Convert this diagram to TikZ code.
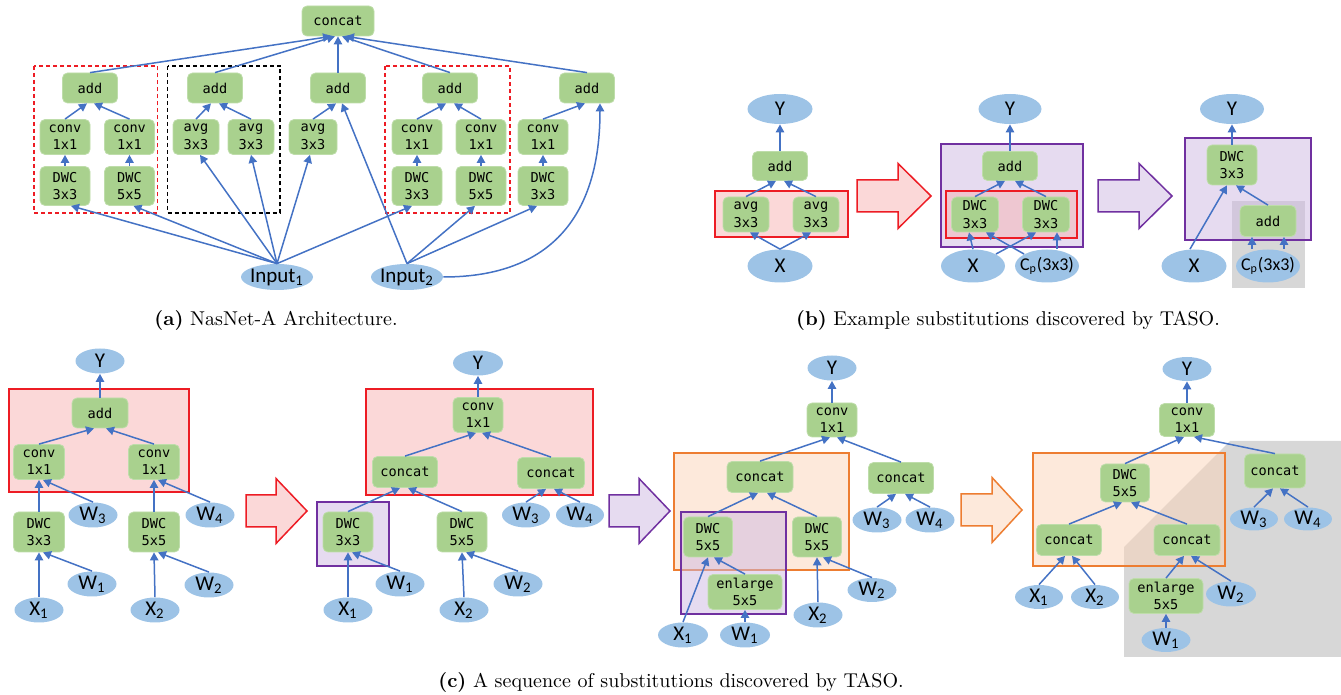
\documentclass[tikz,border=0pt]{standalone}
\usepackage{fontspec}
\usetikzlibrary{arrows.meta,shapes.geometric}
\newfontfamily\opfont{DejaVu Sans Mono}
\newfontfamily\tenfont{Carlito}
\definecolor{opgreen}{RGB}{169,209,142}
\definecolor{tenblue}{RGB}{157,195,230}
\definecolor{flowblue}{RGB}{68,114,196}
\definecolor{boxred}{RGB}{237,28,36}
\definecolor{boxpurple}{RGB}{112,48,160}
\definecolor{boxorange}{RGB}{237,125,49}
\definecolor{fillred}{RGB}{248,178,178}
\definecolor{fillpurple}{RGB}{205,184,226}
\definecolor{fillorange}{RGB}{251,211,183}
\definecolor{fillgray}{RGB}{176,176,176}

\tikzset{
  op/.style 2 args={rectangle, rounded corners=2.5pt, fill=opgreen, draw=opgreen!75!white,
    line width=0.4pt, align=center, inner sep=0pt, font=\opfont\fontsize{6.8}{8.8}\selectfont,
    minimum width=#1*0.5pt, minimum height=#2*0.5pt},
  tensor/.style 2 args={ellipse, fill=tenblue, inner sep=-1.5pt, font=\tenfont\fontsize{10.5}{11}\selectfont,
    minimum width=#1*0.5pt, minimum height=#2*0.5pt},
  cptensor/.style={inner xsep=-4pt, font=\tenfont\fontsize{9}{10}\selectfont},
  flow/.style={draw=flowblue, line width=0.75pt, -{Triangle[length=4pt,width=4.2pt]}},
  redbox/.style={draw=boxred, line width=0.75pt, fill=fillred, fill opacity=0.5},
  purplebox/.style={draw=boxpurple, line width=0.75pt, fill=fillpurple, fill opacity=0.5},
  orangebox/.style={draw=boxorange, line width=0.75pt, fill=fillorange, fill opacity=0.5},
  graybox/.style={fill=fillgray, fill opacity=0.5},
  dashred/.style={draw=boxred, line width=0.6pt, dash pattern=on 2pt off 1.5pt},
  dashblack/.style={draw=black, line width=0.6pt, dash pattern=on 2pt off 1.5pt},
  redarrow/.style={draw=boxred, line width=0.75pt, fill=fillred, fill opacity=0.5, line join=miter},
  purplearrow/.style={draw=boxpurple, line width=0.75pt, fill=fillpurple, fill opacity=0.5, line join=miter},
  orangearrow/.style={draw=boxorange, line width=0.75pt, fill=fillorange, fill opacity=0.5, line join=miter},
  caption/.style={font=\fontsize{10}{12}\selectfont, inner sep=0pt}
}
\newcommand{\subarrow}[4]{\draw[#1,shift={#2}] (0,-16) -- (#3,-16) -- (#3,-32.5) -- ({#3+#4},0) -- (#3,32.5) -- (#3,16) -- (0,16) -- cycle;}

\begin{document}
\begin{tikzpicture}[x=0.5pt,y=-0.5pt]
\useasboundingbox (0,0) rectangle (1341,695);

% (a) NasNet-A
\draw[dashred] (34,66) rectangle (157.5,213);
\draw[dashblack] (167.5,66) rectangle (280,213);
\draw[dashred] (385,66) rectangle (510,213);
\node[op={72}{30}] (cat) at (338,21) {concat};
\node[op={55}{30}] (add1) at (90,88) {add};
\node[op={55}{30}] (add2) at (215,88) {add};
\node[op={55}{30}] (add3) at (338,88) {add};
\node[op={55}{30}] (add4) at (450,88) {add};
\node[op={55}{30}] (add5) at (587,88) {add};
\node[op={50}{35}] (cv1) at (65,137) {conv\\1x1};
\node[op={50}{35}] (cv2) at (129.5,137) {conv\\1x1};
\node[op={46}{35}] (avg1) at (196,137) {avg\\3x3};
\node[op={46}{35}] (avg2) at (251,137) {avg\\3x3};
\node[op={48}{35}] (avg3) at (313,137) {avg\\3x3};
\node[op={50}{35}] (cv3) at (417,137) {conv\\1x1};
\node[op={50}{35}] (cv4) at (481,137) {conv\\1x1};
\node[op={50}{35}] (cv5) at (543,137) {conv\\1x1};
\node[op={50}{39}] (dwc1) at (65,186) {DWC\\3x3};
\node[op={50}{39}] (dwc2) at (129.5,186) {DWC\\5x5};
\node[op={50}{39}] (dwc3) at (417,186) {DWC\\3x3};
\node[op={50}{39}] (dwc4) at (481,186) {DWC\\5x5};
\node[op={50}{39}] (dwc5) at (543,186) {DWC\\3x3};
\node[tensor={72}{26}] (inA) at (277,277) {Input\textsubscript{1}};
\node[tensor={72}{26}] (inB) at (407,277) {Input\textsubscript{2}};
\draw[flow] (add1.north) -- ([xshift=-3.5pt]cat.south);
\draw[flow] (add2.north) -- ([xshift=-1.5pt]cat.south);
\draw[flow] (add3.north) -- (cat.south);
\draw[flow] (add4.north) -- ([xshift=2pt]cat.south);
\draw[flow] (add5.north) -- ([xshift=4pt]cat.south);
\draw[flow] (cv1.north) -- ([xshift=-1.5pt]add1.south);
\draw[flow] (cv2.north) -- ([xshift=2pt]add1.south);
\draw[flow] (avg1.north) -- ([xshift=-2pt]add2.south);
\draw[flow] (avg2.north) -- ([xshift=2pt]add2.south);
\draw[flow] (avg3.north) -- ([xshift=-1pt]add3.south);
\draw[flow] (cv3.north) -- ([xshift=-2pt]add4.south);
\draw[flow] (cv4.north) -- ([xshift=2pt]add4.south);
\draw[flow] (cv5.north) -- ([xshift=-1pt]add5.south);
\draw[flow] (dwc1) -- (cv1);
\draw[flow] (dwc2) -- (cv2);
\draw[flow] (dwc3) -- (cv3);
\draw[flow] (dwc4) -- (cv4);
\draw[flow] (dwc5) -- (cv5);
\draw[flow] (inA.north) -- ([xshift=3pt]dwc1.south);
\draw[flow] (inA.north) -- ([xshift=2pt]dwc2.south);
\draw[flow] (inA.north) -- ([xshift=2pt]avg1.south);
\draw[flow] (inA.north) -- (avg2.south);
\draw[flow] (inA.north) -- ([xshift=-1.5pt]avg3.south);
\draw[flow] (inA.north) -- ([xshift=-2.5pt]dwc3.south);
\draw[flow] (inB.north) -- ([xshift=2pt]add3.south);
\draw[flow] (inB.north) -- ([xshift=-3pt]dwc4.south);
\draw[flow] (inB.north) -- ([xshift=-3pt]dwc5.south);
\draw[flow] (inB.east) to[out=0,in=-90,looseness=1.2] ([xshift=6.5pt]add5.south);
\node[caption] (capA) at (276,320) {\textbf{(a)} NasNet-A Architecture.};

% (b) example substitutions
\draw[redbox] (715,191) rectangle (848,237);
\draw[purplebox] (941,144) rectangle (1083,247);
\draw[redbox] (946,191) rectangle (1077,238);
\fill[graybox] (1232,201) rectangle (1305,288);
\draw[purplebox] (1185,138) rectangle (1311,240);
\subarrow{redarrow}{(857,196)}{41}{33}
\subarrow{purplearrow}{(1098,196)}{41}{33}
\node[tensor={65}{30}] (bY1) at (780,109) {Y};
\node[op={55}{29}] (bAdd1) at (780,166) {add};
\node[op={46}{35}] (bAvg1) at (746,214.5) {avg\\3x3};
\node[op={46}{35}] (bAvg2) at (816,214.5) {avg\\3x3};
\node[tensor={65}{33}] (bX1) at (780,266) {X};
\node[tensor={63}{30}] (bY2) at (1010,109) {Y};
\node[op={55}{29}] (bAdd2) at (1010,166) {add};
\node[op={47}{35}] (bDwc1) at (975,214.5) {DWC\\3x3};
\node[op={47}{35}] (bDwc2) at (1046,214.5) {DWC\\3x3};
\node[tensor={64}{33}] (bX2) at (973,266) {X};
\node[tensor={64}{33}, cptensor] (bCp2) at (1047,266) {C\textsubscript{p}(3x3)};
\node[tensor={64}{30}] (bY3) at (1232,109) {Y};
\node[op={50}{40}] (bDwc3) at (1232,165) {DWC\\3x3};
\node[op={56}{31}] (bAdd3) at (1268,221) {add};
\node[tensor={65}{33}] (bX3) at (1194,266) {X};
\node[tensor={64}{33}, cptensor] (bCp3) at (1268,266) {C\textsubscript{p}(3x3)};
\draw[flow] (bAdd1.north) -- (bY1.south);
\draw[flow] (bAvg1.north) -- ([xshift=-2pt]bAdd1.south);
\draw[flow] (bAvg2.north) -- ([xshift=2pt]bAdd1.south);
\draw[flow] (bX1.north) -- ([xshift=2pt]bAvg1.south);
\draw[flow] (bX1.north) -- ([xshift=-2.5pt]bAvg2.south);
\draw[flow] (bAdd2.north) -- (bY2.south);
\draw[flow] (bDwc1.north) -- ([xshift=-2.5pt]bAdd2.south);
\draw[flow] (bDwc2.north) -- ([xshift=2.5pt]bAdd2.south);
\draw[flow] (bX2.north) -- ([xshift=-3pt]bDwc1.south);
\draw[flow] (bX2.north east) -- ([xshift=-5pt]bDwc2.south);
\draw[flow] (bCp2.north west) -- ([xshift=5.5pt]bDwc1.south);
\draw[flow] ([xshift=5pt]bCp2.north) -- ([xshift=5.5pt]bDwc2.south);
\draw[flow] (bDwc3.north) -- (bY3.south);
\draw[flow] ([xshift=-2pt]bX3.north) -- ([xshift=-2.5pt]bDwc3.south);
\draw[flow] (bAdd3.north) -- ([xshift=2pt]bDwc3.south);
\draw[flow] ([xshift=-8pt]bCp3.north) -- ([xshift=-8pt]bAdd3.south);
\draw[flow] ([xshift=8pt]bCp3.north) -- ([xshift=8pt]bAdd3.south);
\node[caption] (capB) at (1008,320) {\textbf{(b)} Example substitutions discovered by TASO.};

% (c) sequence of substitutions
\draw[redbox] (9,389) rectangle (189,492);
\draw[redbox] (366,389) rectangle (593,495);
\draw[purplebox] (317,502) rectangle (389,566);
\draw[orangebox] (674,453) rectangle (849,570);
\draw[purplebox] (681,512) rectangle (786,614);
\fill[graybox] (1230,441) -- (1341,441) -- (1341,657) -- (1124,657) -- (1124,547) -- cycle;
\draw[orangebox] (1033,453) rectangle (1225,566);
\subarrow{redarrow}{(246,511)}{30}{31}
\subarrow{purplearrow}{(609,511)}{30}{31}
\subarrow{orangearrow}{(961,510)}{31}{30}

\node[tensor={49}{25}] (cY) at (100,361) {Y};
\node[op={56}{30}] (cAdd) at (100,413) {add};
\node[op={51}{35}] (cCv1) at (39,462) {conv\\1x1};
\node[op={51}{35}] (cCv2) at (154,462) {conv\\1x1};
\node[tensor={49}{25}] (cW3) at (93,515) {W\textsubscript{3}};
\node[tensor={49}{25}] (cW4) at (210,515) {W\textsubscript{4}};
\node[op={51}{40}] (cDwc1) at (39,532) {DWC\\3x3};
\node[op={51}{40}] (cDwc2) at (154,532) {DWC\\5x5};
\node[tensor={49}{25}] (cW1) at (92,584) {W\textsubscript{1}};
\node[tensor={49}{25}] (cW2) at (209,585) {W\textsubscript{2}};
\node[tensor={49}{25}] (cX1) at (39,610) {X\textsubscript{1}};
\node[tensor={49}{25}] (cX2) at (155,610) {X\textsubscript{2}};
\draw[flow] (cAdd.north) -- (cY.south);
\draw[flow] (cCv1.north) -- ([xshift=-3pt]cAdd.south);
\draw[flow] (cCv2.north) -- ([xshift=3pt]cAdd.south);
\draw[flow] (cDwc1.north) -- (cCv1.south);
\draw[flow] (cDwc2.north) -- (cCv2.south);
\draw[flow] (cW3.north) -- ([xshift=2pt]cCv1.south);
\draw[flow] (cW4.north) -- ([xshift=2pt]cCv2.south);
\draw[flow] (cX1.north) -- (cDwc1.south);
\draw[flow] (cX2.north) -- (cDwc2.south);
\draw[flow] (cW1.north) -- ([xshift=2pt]cDwc1.south);
\draw[flow] (cW2.north) -- ([xshift=2pt]cDwc2.south);

\node[tensor={50}{25}] (dY) at (478,363) {Y};
\node[op={50}{35}] (dCv) at (478,415) {conv\\1x1};
\node[op={65}{31}] (dCatL) at (405,472) {concat};
\node[op={67}{31}] (dCatR) at (551,473) {concat};
\node[tensor={48}{25}] (dW3) at (526,515) {W\textsubscript{3}};
\node[tensor={48}{25}] (dW4) at (580,515) {W\textsubscript{4}};
\node[op={50}{40}] (dDwc1) at (348,532) {DWC\\3x3};
\node[op={50}{40}] (dDwc2) at (462,532) {DWC\\5x5};
\node[tensor={49}{25}] (dW1) at (400,584) {W\textsubscript{1}};
\node[tensor={49}{25}] (dW2) at (518,584) {W\textsubscript{2}};
\node[tensor={49}{25}] (dX1) at (348,610) {X\textsubscript{1}};
\node[tensor={49}{25}] (dX2) at (464,610) {X\textsubscript{2}};
\draw[flow] (dCv.north) -- (dY.south);
\draw[flow] (dCatL.north) -- ([xshift=-1pt]dCv.south);
\draw[flow] (dCatR.north) -- ([xshift=2pt]dCv.south);
\draw[flow] (dDwc1.north) -- ([xshift=-2.5pt]dCatL.south);
\draw[flow] (dDwc2.north) -- ([xshift=1.5pt]dCatL.south);
\draw[flow] (dW3.north) -- ([xshift=-2.5pt]dCatR.south);
\draw[flow] (dW4.north) -- ([xshift=1.5pt]dCatR.south);
\draw[flow] (dX1.north) -- (dDwc1.south);
\draw[flow] (dX2.north) -- (dDwc2.south);
\draw[flow] (dW1.north) -- ([xshift=2pt]dDwc1.south);
\draw[flow] (dW2.north) -- ([xshift=2pt]dDwc2.south);

\node[tensor={49}{25}] (eY) at (832,368) {Y};
\node[op={50}{34}] (eCv) at (832,420) {conv\\1x1};
\node[op={66}{31}] (eCatL) at (760,477) {concat};
\node[op={65}{31}] (eCatR) at (901,478) {concat};
\node[tensor={49}{25}] (eW3) at (877,520) {W\textsubscript{3}};
\node[tensor={49}{25}] (eW4) at (930,520) {W\textsubscript{4}};
\node[op={49}{40}] (eDwc1) at (708,537) {DWC\\5x5};
\node[op={49}{40}] (eDwc2) at (817,537) {DWC\\5x5};
\node[op={74}{35}] (eEnl) at (745,592) {enlarge\\5x5};
\node[tensor={49}{24}] (eW2) at (872,590) {W\textsubscript{2}};
\node[tensor={49}{25}] (eX2) at (818,615) {X\textsubscript{2}};
\node[tensor={50}{25}] (eX1) at (683,635) {X\textsubscript{1}};
\node[tensor={50}{25}] (eW1) at (745,635) {W\textsubscript{1}};
\draw[flow] (eCv.north) -- (eY.south);
\draw[flow] (eCatL.north) -- ([xshift=-1pt]eCv.south);
\draw[flow] (eCatR.north) -- ([xshift=2.5pt]eCv.south);
\draw[flow] (eDwc1.north) -- ([xshift=-1pt]eCatL.south);
\draw[flow] (eDwc2.north) -- ([xshift=3.5pt]eCatL.south);
\draw[flow] (eW3.north) -- ([xshift=-2.5pt]eCatR.south);
\draw[flow] (eW4.north) -- ([xshift=2pt]eCatR.south);
\draw[flow] (eX1.north) -- (eDwc1.south);
\draw[flow] (eEnl.north) -- ([xshift=3pt]eDwc1.south);
\draw[flow] (eW1.north) -- (eEnl.south);
\draw[flow] (eX2.north) -- (eDwc2.south);
\draw[flow] (eW2.north) -- ([xshift=3pt]eDwc2.south);

\node[tensor={49}{24}] (fY) at (1187,369) {Y};
\node[op={55}{33}] (fCv) at (1187,420) {conv\\1x1};
\node[op={49}{38}] (fDwc) at (1125,483) {DWC\\5x5};
\node[op={61}{34}] (fCatO) at (1275,471) {concat};
\node[tensor={48}{23}] (fW3) at (1254,519) {W\textsubscript{3}};
\node[tensor={48}{23}] (fW4) at (1308,519) {W\textsubscript{4}};
\node[op={65}{31}] (fCatL) at (1069,540) {concat};
\node[op={66}{31}] (fCatR) at (1187,540) {concat};
\node[tensor={48}{24}] (fX1) at (1039,597) {X\textsubscript{1}};
\node[tensor={48}{24}] (fX2) at (1095,597) {X\textsubscript{2}};
\node[op={74}{35}] (fEnl) at (1166,596) {enlarge\\5x5};
\node[tensor={50}{25}] (fW2) at (1231,594) {W\textsubscript{2}};
\node[tensor={49}{24}] (fW1) at (1166,640) {W\textsubscript{1}};
\draw[flow] (fCv.north) -- (fY.south);
\draw[flow] (fDwc.north) -- ([xshift=-1.5pt]fCv.south);
\draw[flow] (fCatO.north) -- ([xshift=3.5pt]fCv.south);
\draw[flow] (fCatL.north) -- ([xshift=-1.5pt]fDwc.south);
\draw[flow] (fCatR.north) -- ([xshift=3pt]fDwc.south);
\draw[flow] (fW3.north) -- ([xshift=-1pt]fCatO.south);
\draw[flow] (fW4.north) -- ([xshift=2.5pt]fCatO.south);
\draw[flow] (fX1.north) -- ([xshift=-2pt]fCatL.south);
\draw[flow] (fX2.north) -- ([xshift=1.5pt]fCatL.south);
\draw[flow] (fEnl.north) -- ([xshift=-1.5pt]fCatR.south);
\draw[flow] (fW2.north) -- ([xshift=2pt]fCatR.south);
\draw[flow] (fW1.north) -- (fEnl.south);
\node[caption] (capC) at (671,682) {\textbf{(c)} A sequence of substitutions discovered by TASO.};
\end{tikzpicture}
\end{document}
